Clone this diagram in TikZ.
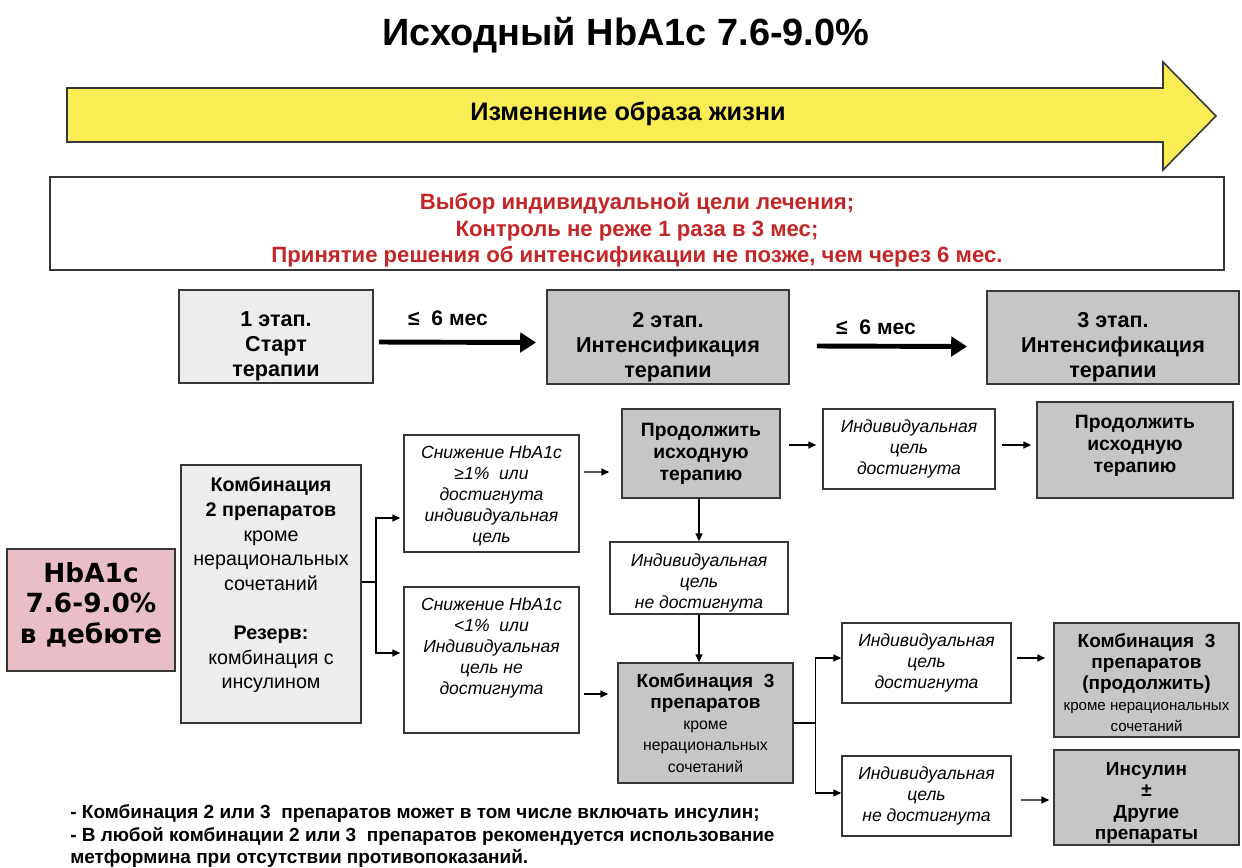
\documentclass[tikz,border=0pt]{standalone}
\usepackage{fontspec}
\setmainfont{Liberation Sans}
\newfontfamily\dejavu{DejaVu Sans}
\usetikzlibrary{arrows.meta,calc}
\definecolor{arrowyellow}{RGB}{249,236,84}
\definecolor{redtext}{RGB}{196,38,40}
\definecolor{pinkfill}{RGB}{233,190,198}
\definecolor{lightfill}{RGB}{237,237,237}
\definecolor{midfill}{RGB}{198,198,198}
\definecolor{edge}{RGB}{55,55,55}
\tikzset{
  wh/.style 2 args={minimum width=#1*0.02cm, minimum height=#2*0.02cm},
  box/.style={draw=edge, line width=0.9pt, inner sep=1pt, align=center},
  stagebox/.style={box, line width=1.1pt, font=\bfseries\fontsize{12.3}{14.3}\selectfont},
  graybox/.style={box, fill=midfill},
  itbox/.style={box, fill=white, font=\itshape\fontsize{10}{11.9}\selectfont},
  bigarr/.style={draw=black, line width=2.8pt, -{Triangle[length=9pt,width=11pt]}},
  arr/.style={draw=black, line width=0.8pt, -{Triangle[length=4.5pt,width=4pt]}},
  ln/.style={draw=black, line width=0.8pt},
  lbl/.style={font=\bfseries\fontsize{12}{14}\selectfont}
}
\newcommand\bigb{\bfseries\fontsize{10.8}{12.2}\selectfont}
\newcommand\bigbb{\bfseries\fontsize{10.8}{13.2}\selectfont}
\newcommand\smr{\mdseries\fontsize{9}{10.8}\selectfont}
\newcommand\smrr{\mdseries\fontsize{8.6}{11}\selectfont}
\newcommand\sd[1]{\rule{0pt}{#1}}
\begin{document}
\begin{tikzpicture}[x=0.02cm,y=-0.02cm]
\useasboundingbox[fill=white] (0,0) rectangle (1242,867);

% title
\node[font=\bfseries\fontsize{21.6}{25}\selectfont] (title) at (626,35) {Исходный HbA1c 7.6-9.0\%};

% yellow arrow
\draw[draw=edge, line width=0.9pt, fill=arrowyellow] (67,88) -- (1163,88) -- (1163,62) -- (1216,116) -- (1163,170) -- (1163,142) -- (67,142) -- cycle;
\node[font=\bfseries\fontsize{14.4}{17}\selectfont] (life) at (628,114) {Изменение образа жизни};

% red box
\node[box, line width=1.1pt, wh={1174}{93}, text=redtext, font=\bfseries\fontsize{12.6}{15}\selectfont] (goal) at (637,223.5)
 {\sd{17pt}Выбор индивидуальной цели лечения;\\Контроль не реже 1 раза в 3 мес;\\Принятие решения об интенсификации не позже, чем через 6 мес.};

% stage row
\node[stagebox, fill=lightfill, wh={194}{91}] (st1) at (276,336.5) {\sd{20pt}1 этап.\\Старт\\терапии};
\node[stagebox, fill=midfill, wh={242}{91}] (st2) at (668,337) {\sd{20pt}2 этап.\\Интенсификация\\терапии};
\node[stagebox, fill=midfill, wh={252}{91}] (st3) at (1113,337.5) {\sd{20pt}3 этап.\\Интенсификация\\терапии};
\draw[bigarr] ($(st1.east)+(5,5.5)$) -- ($(st2.west)+(-10,5.5)$);
\draw[bigarr] ($(st2.east)+(27,9)$) -- ($(st3.west)+(-19,9)$);
\node[lbl] (m1) at (448,318) {≤\ \ 6 мес};
\node[lbl] (m2) at (876,327) {≤\ \ 6 мес};

% left column
\node[box, fill=pinkfill, wh={168}{122}, font=\dejavu\bfseries\fontsize{15}{17.2}\selectfont] (hb) at (91,610) {HbA1c\\7.6-9.0\%\\в дебюте\\[-9pt]};
\node[box, fill=lightfill, wh={180}{258}, font=\fontsize{11.2}{14}\selectfont] (k2) at (271,594)
 {\textbf{Комбинация}\\\textbf{2 препаратов}\\кроме\\нерациональных\\сочетаний\\[14pt]\textbf{Резерв:}\\комбинация с\\инсулином\\[-1.5pt]};

\node[itbox, wh={175}{117}] (s1) at (491.5,493.5) {\sd{10pt}Снижение HbA1c\\≥1\%\ \ или\\достигнута\\индивидуальная\\цель};
\node[itbox, wh={175}{146}] (s2) at (491.5,660) {Снижение HbA1c\\<1\%\ \ или\\Индивидуальная\\цель не\\достигнута\\[4pt]};

\coordinate (kb) at (376,582);
\draw[ln] ($(k2.east)+(0,-12)$) -- (kb);
\draw[arr] (kb) |- ($(s1.west)+(-3,24.5)$);
\draw[arr] (kb) |- ($(s2.west)+(-3,-7)$);

% middle column
\node[graybox, wh={158}{89}, font=\bfseries\fontsize{11}{12.6}\selectfont] (prod1) at (701,453.5) {Продолжить\\исходную\\терапию};
\node[itbox, wh={178}{70}] (mid) at (699,578) {\sd{13pt}Индивидуальная\\цель\\не достигнута};
\node[graybox, wh={175}{120}] (k3) at (705.5,723)
 {\bigb Комбинация\ \ 3\\\bigb препаратов\\\smr кроме\\\smr нерациональных\\\smr сочетаний};

\draw[arr] ($(s1.east)+(4,-21.5)$) -- ($(prod1.west)+(-12,18.5)$);
\draw[arr] ($(s2.east)+(4,34)$) -- ($(k3.west)+(-9,-29)$);
\draw[arr] (prod1.south -| mid.north) -- (mid.north);
\draw[arr] (mid.south) -- (mid.south |- k3.north);

% right part, top
\node[itbox, wh={172}{80}] (t1) at (909,449) {Индивидуальная\\цель\\достигнута};
\node[graybox, wh={196}{96}, font=\bfseries\fontsize{11}{12.6}\selectfont] (prod2) at (1135,450) {Продолжить\\исходную\\терапию\\[-5.2pt]};
\draw[arr] ($(prod1.east)+(8,-8.5)$) -- ($(t1.west)+(-6,-4)$);
\draw[arr] ($(t1.east)+(6,-4)$) -- ($(prod2.west)+(-5,-5)$);

% right part, bottom
\node[itbox, wh={169}{80}] (b1) at (926.5,663) {Индивидуальная\\цель\\достигнута};
\node[itbox, wh={169}{80}] (b2) at (926.5,796) {Индивидуальная\\цель\\не достигнута};
\coordinate (kb3) at ($(k3.east)+(22,0)$);
\draw[ln] (k3.east) -- (kb3);
\draw[arr] (kb3) |- ($(b1.west)+(0,-5)$);
\draw[arr] (kb3) |- ($(b2.west)+(0,-3)$);

\node[graybox, wh={185}{114}] (k3p) at (1146.5,680)
 {\bigbb\sd{11pt}Комбинация\ \ 3\\\bigbb препаратов\\\bigbb (продолжить)\\\smrr кроме нерациональных\\\smrr сочетаний};
\node[graybox, wh={185}{95}, font=\bfseries\fontsize{10.8}{12.2}\selectfont] (ins) at (1146.5,797.5) {\sd{13.4pt}Инсулин\\±\\Другие\\препараты};
\draw[arr] ($(b1.east)+(5,-5)$) -- ($(k3p.west)+(-8,-22)$);
\draw[arr] ($(b2.east)+(9,4)$) -- ($(ins.west)+(-4,2.5)$);

% footnote
\node[anchor=north west, align=left, inner sep=0pt, font=\bfseries\fontsize{10.8}{13}\selectfont] (note) at (70,804)
 {- Комбинация 2 или 3\ \ препаратов может в том числе включать инсулин;\\
  - В любой комбинации 2 или 3\ \ препаратов рекомендуется использование\\
  метформина при отсутствии противопоказаний.};
\end{tikzpicture}
\end{document}
